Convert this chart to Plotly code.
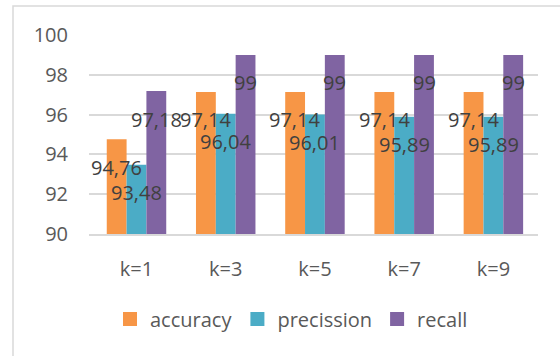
import plotly.graph_objects as go

categories = ["k=1", "k=3", "k=5", "k=7", "k=9"]
accuracy = [94.76, 97.14, 97.14, 97.14, 97.14]
precission = [93.48, 96.04, 96.01, 95.89, 95.89]
recall = [97.18, 99, 99, 99, 99]
y_ticks = [90, 92, 94, 96, 98, 100]

series = [
    ("accuracy", accuracy, "#F79646"),
    ("precission", precission, "#4BACC6"),
    ("recall", recall, "#8064A2"),
]

FONT = "Open Sans"
L, R, T, B = 89, 22, 35, 122
W, H = 560, 356
pw, ph = W - L - R, H - T - B

fig = go.Figure()
for name, vals, col in series:
    fig.add_trace(go.Bar(name=name, x=categories, y=vals, marker_color=col,
                         marker_line_width=0, legendgroup=name, showlegend=False))
# legend entries with square swatches
for name, vals, col in series:
    fig.add_trace(go.Scatter(name=name, x=[None], y=[None], mode="markers",
                             marker=dict(symbol="square", size=14, color=col),
                             legendgroup=name, showlegend=True, hoverinfo="skip"))

def fmt(v):
    s = ("%.2f" % v).rstrip("0").rstrip(".")
    return s.replace(".", ",")

offsets = [-20, 0, 20]
annotations = []
for (name, vals, col), dx in zip(series, offsets):
    for c, v in zip(categories, vals):
        annotations.append(dict(x=c, y=v, xref="x", yref="y", text=fmt(v),
                                showarrow=False, xshift=dx, yshift=-28,
                                font=dict(family=FONT, size=20, color="#404040")))

fig.update_layout(
    width=W, height=H,
    margin=dict(l=L, r=R, t=T, b=B),
    paper_bgcolor="white", plot_bgcolor="white",
    barmode="group", bargap=1/3, bargroupgap=0,
    font=dict(family=FONT, size=20, color="#595959"),
    showlegend=True,
    legend=dict(orientation="h", x=(110 - L) / pw, xanchor="left", y=(T + ph - 319) / ph,
                yanchor="middle", font=dict(family=FONT, size=20, color="#595959"),
                itemsizing="trace", traceorder="normal", tracegroupgap=0,
                bgcolor="rgba(0,0,0,0)"),
    annotations=annotations,
    shapes=[dict(type="rect", xref="paper", yref="paper",
                 x0=(13 - L) / pw, x1=(W + 5 - L) / pw,
                 y0=(T + ph - (H + 5)) / ph, y1=1 + (T - 6) / ph,
                 line=dict(color="#D9D9D9", width=1.5), fillcolor="rgba(0,0,0,0)",
                 layer="below")],
)
fig.update_yaxes(range=[90, 100], tickvals=y_ticks, showgrid=True, gridcolor="#D9D9D9",
                 gridwidth=1.5, zeroline=False, showline=False, ticks="",
                 ticklabelstandoff=20, tickfont=dict(family=FONT, size=20, color="#595959"))
fig.update_xaxes(showline=True, linecolor="#D9D9D9", linewidth=1.5, ticks="",
                 ticklabelstandoff=16, tickfont=dict(family=FONT, size=20, color="#595959"))

fig.write_html("out.html")
